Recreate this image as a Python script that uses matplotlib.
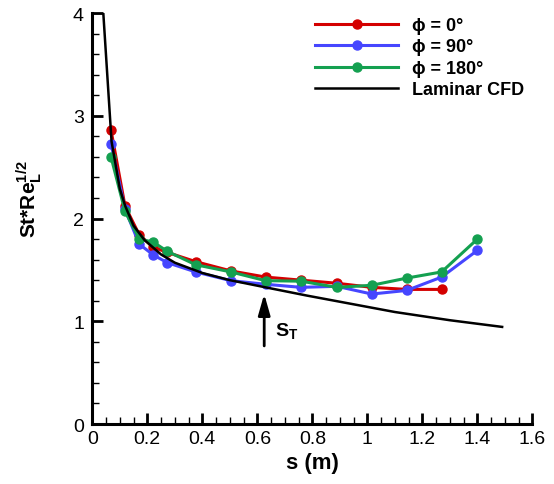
import matplotlib
matplotlib.use("Agg")
import matplotlib.pyplot as plt
from matplotlib.ticker import MultipleLocator

plt.rcParams['font.family'] = ['Liberation Sans', 'DejaVu Sans']
plt.rcParams['mathtext.fontset'] = 'custom'
plt.rcParams['mathtext.rm'] = 'Liberation Sans'
plt.rcParams['mathtext.bf'] = 'Liberation Sans:bold'

# measured data
s_exp = [0.068, 0.119, 0.171, 0.222, 0.273, 0.376, 0.504, 0.630, 0.759, 0.889, 1.016, 1.143, 1.270, 1.400]
st_0 = [2.86, 2.12, 1.84, 1.72, 1.67, 1.58, 1.49, 1.43, 1.40, 1.37, 1.33, 1.31, 1.31]
st_90 = [2.73, 2.09, 1.75, 1.645, 1.57, 1.48, 1.395, 1.36, 1.33, 1.34, 1.265, 1.30, 1.43, 1.69]
st_180 = [2.60, 2.07, 1.80, 1.77, 1.68, 1.55, 1.48, 1.395, 1.39, 1.33, 1.35, 1.42, 1.48, 1.80]

# laminar CFD
s_cfd = [0.0, 0.04, 0.07, 0.10, 0.12, 0.15, 0.19, 0.25, 0.30, 0.40, 0.50, 0.63, 0.78, 0.94, 1.10, 1.30, 1.49]
st_cfd = [4.0, 4.0, 2.75, 2.29, 2.12, 1.93, 1.79, 1.65, 1.57, 1.47, 1.40, 1.33, 1.25, 1.17, 1.09, 1.01, 0.945]

fig = plt.figure(figsize=(5.54, 4.85), dpi=100)
ax = fig.add_axes([0.1666, 0.1237, 0.7944, 0.8474])

ax.plot(s_exp[:len(st_0)], st_0, '-o', color='#d40000', lw=2.2, ms=6.5, label='\u03d5 = 0\u00b0')
ax.plot(s_exp, st_90, '-o', color='#4646ff', lw=2.2, ms=6.5, label='\u03d5 = 90\u00b0')
ax.plot(s_exp, st_180, '-o', color='#14a050', lw=2.2, ms=6.5, label='\u03d5 = 180\u00b0')
ax.plot(s_cfd, st_cfd, '-', color='black', lw=1.8, label='Laminar CFD')

ax.annotate('', xy=(0.625, 1.265), xytext=(0.625, 0.76),
            arrowprops=dict(arrowstyle='-|>,head_length=0.7,head_width=0.2',
                            color='black', lw=2, mutation_scale=18, shrinkA=0, shrinkB=0))
ax.text(0.664, 0.86, r'$\mathbf{S}_\mathbf{T}$', fontsize=14, ha='left', va='baseline')

ax.set_xlim(0, 1.6)
ax.set_ylim(0, 4)
ax.xaxis.set_minor_locator(MultipleLocator(0.05))
ax.yaxis.set_major_locator(MultipleLocator(1))
ax.yaxis.set_minor_locator(MultipleLocator(0.2))
ax.set_xticks([0, 0.2, 0.4, 0.6, 0.8, 1.0, 1.2, 1.4, 1.6])
ax.set_xticklabels(['0', '0.2', '0.4', '0.6', '0.8', '1', '1.2', '1.4', '1.6'])

for side in ['top', 'right']:
    ax.spines[side].set_visible(False)
for side in ['left', 'bottom']:
    ax.spines[side].set_linewidth(2.2)

ax.tick_params(which='major', direction='in', length=8, width=2, labelsize=14)
ax.tick_params(axis='y', which='major', pad=6)
ax.tick_params(axis='x', which='major', pad=4)
ax.tick_params(which='minor', direction='in', length=5, width=1)

ax.set_xlabel('s (m)', fontsize=16, fontweight='bold')
ax.set_ylabel(r'$\mathbf{St{*}Re}_\mathbf{L}^\mathbf{1/2}$', fontsize=15)
ax.yaxis.set_label_coords(-0.11, 0.55)

ax.legend(loc='upper left', bbox_to_anchor=(0.47, 1.03), frameon=False,
          handlelength=4.6, handletextpad=0.75, labelspacing=0.25,
          prop={'weight': 'bold', 'size': 13})

fig.savefig('out.png', dpi=100)
